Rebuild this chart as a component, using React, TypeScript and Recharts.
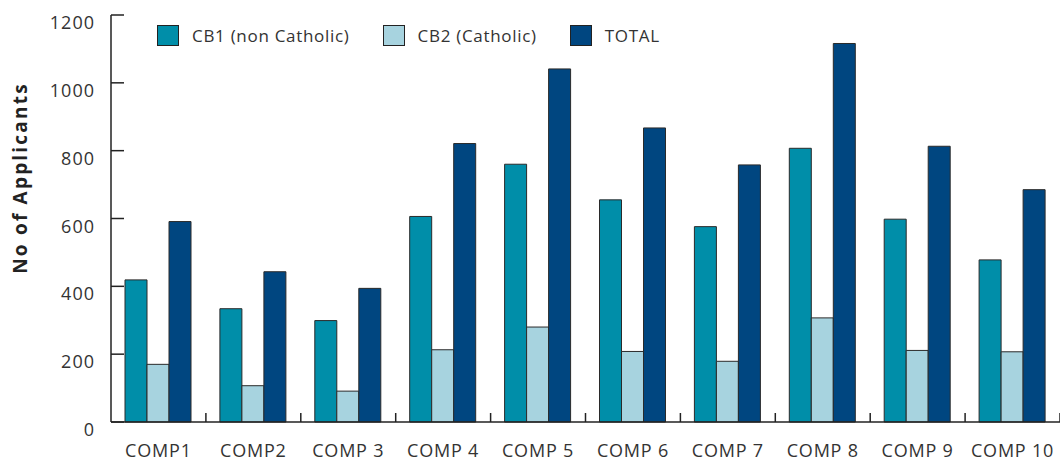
import React from 'react';
import { BarChart, Bar, XAxis, YAxis, Legend } from 'recharts';

const categories = ['COMP1', 'COMP2', 'COMP 3', 'COMP 4', 'COMP 5', 'COMP 6', 'COMP 7', 'COMP 8', 'COMP 9', 'COMP 10'];
const cb1Values = [419, 334, 299, 606, 760, 655, 576, 807, 598, 478];
const cb2Values = [170, 107, 91, 213, 280, 208, 179, 307, 211, 207];
const totalValues = [591, 443, 394, 821, 1041, 867, 758, 1116, 813, 685];
const yTicks = [0, 200, 400, 600, 800, 1000, 1200];

const seriesNames = ['CB1 (non Catholic)', 'CB2 (Catholic)', 'TOTAL'];
const seriesKeys = ['cb1', 'cb2', 'total'];
const seriesColors = ['#008ea9', '#a7d3df', '#004680'];

const data = categories.map((c, i) => ({
  name: c,
  cb1: cb1Values[i],
  cb2: cb2Values[i],
  total: totalValues[i],
}));

const W = 1060;
const H = 461;
const LEFT = 111;
const FONT = '"Open Sans", sans-serif';
const AXIS = '#222';
const halfCat = (W - LEFT) / categories.length / 2;

const YTick = (props: any) => {
  const { x, y, payload } = props;
  return (
    <g>
      <line x1={x} x2={x + 13} y1={y} y2={y} stroke={AXIS} strokeWidth={1.5} />
      <text x={x - 16} y={y + 14} textAnchor="end" fontFamily={FONT} fontSize={18} letterSpacing={1} fill="#333">
        {payload.value}
      </text>
    </g>
  );
};

const XTick = (props: any) => {
  const { x, y, payload } = props;
  return (
    <g>
      <line x1={x + halfCat} x2={x + halfCat} y1={y - 9} y2={y} stroke={AXIS} strokeWidth={1.5} />
      <text x={x} y={y + 35} textAnchor="middle" fontFamily={FONT} fontSize={18} letterSpacing={0.8} fill="#333">
        {payload.value}
      </text>
    </g>
  );
};

const YLabel = () => (
  <text
    x={20}
    y={178}
    transform="rotate(-90 20 178)"
    textAnchor="middle"
    dominantBaseline="central"
    fontFamily={FONT}
    fontWeight="bold"
    fontSize={19}
    letterSpacing={2.2}
    fill="#222"
  >
    No of Applicants
  </text>
);

const renderLegend = (props: any) => {
  const { payload } = props;
  return (
    <div style={{ display: 'flex', alignItems: 'center' }}>
      {(payload || []).map((p: any, i: number) => (
        <div key={i} style={{ display: 'flex', alignItems: 'center', marginRight: 33 }}>
          <div
            style={{
              width: 20,
              height: 19,
              background: p.color,
              border: '1.5px solid #222',
              marginRight: 13,
            }}
          />
          <span style={{ fontFamily: FONT, fontSize: 17, letterSpacing: 0.7, color: '#333', whiteSpace: 'nowrap' }}>{p.value}</span>
        </div>
      ))}
    </div>
  );
};

export default function App() {
  return (
    <div style={{ width: W, height: H }}>
      <style>{'body{margin:0;}'}</style>
      <BarChart
        width={W}
        height={H}
        data={data}
        margin={{ top: 15, right: 0, bottom: 0, left: 0 }}
        barCategoryGap={14}
        barGap={0}
      >
        <XAxis
          dataKey="name"
          height={39}
          interval={0}
          tickSize={0}
          tickMargin={0}
          tickLine={false}
          axisLine={{ stroke: AXIS, strokeWidth: 1.5 }}
          tick={<XTick />}
        />
        <YAxis
          width={LEFT}
          domain={[0, 1200]}
          ticks={yTicks}
          interval={0}
          tickSize={0}
          tickMargin={0}
          tickLine={false}
          axisLine={{ stroke: AXIS, strokeWidth: 1.5 }}
          tick={<YTick />}
          label={<YLabel />}
        />
        <Legend
          layout="horizontal"
          verticalAlign="middle"
          align="center"
          content={renderLegend}
          wrapperStyle={{ top: 24, left: 157, width: 'auto', height: 'auto' }}
        />
        {seriesKeys.map((k, i) => (
          <Bar
            key={k}
            dataKey={k}
            name={seriesNames[i]}
            fill={seriesColors[i]}
            stroke="#2a2a2a"
            strokeWidth={1}
            isAnimationActive={false}
          />
        ))}
      </BarChart>
    </div>
  );
}
